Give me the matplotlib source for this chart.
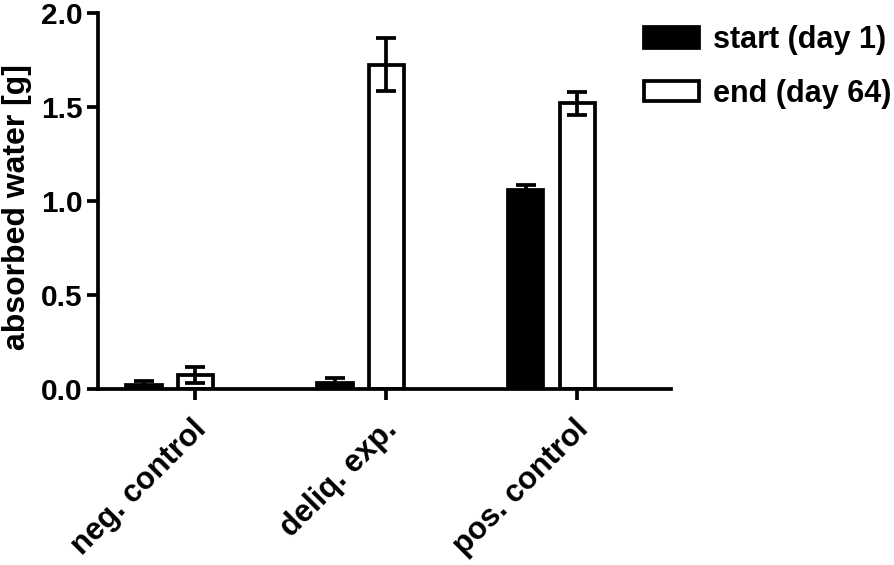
import matplotlib
matplotlib.use("Agg")
import matplotlib.pyplot as plt
import matplotlib.transforms as mtransforms
import numpy as np
from matplotlib.patches import Patch

categories = ["neg. control", "deliq. exp.", "pos. control"]
start_vals = [0.02, 0.03, 1.06]
start_err = [0.025, 0.03, 0.025]
end_vals = [0.075, 1.725, 1.52]
end_err = [0.042, 0.14, 0.06]
series_labels = ["start (day 1)", "end (day 64)"]
yticks = [0.0, 0.5, 1.0, 1.5, 2.0]

plt.rcParams['font.family'] = ['Liberation Sans', 'DejaVu Sans']
plt.rcParams['font.weight'] = 'bold'

fig = plt.figure(figsize=(8.95, 5.65), dpi=100)
ax = fig.add_axes([0.1095, 0.3115, 0.6402, 0.6655])

x = np.arange(len(categories))
w = 0.185
lw = 2.7
off = -0.27

ax.bar(x + off, start_vals, width=w, color='black', edgecolor='black', linewidth=lw, zorder=2)
ax.bar(x, end_vals, width=w, color='white', edgecolor='black', linewidth=lw, zorder=2)
ax.errorbar(x + off, start_vals, yerr=start_err, fmt='none', ecolor='black', elinewidth=lw,
            capsize=7.2, capthick=lw, zorder=3)
ax.errorbar(x, end_vals, yerr=end_err, fmt='none', ecolor='black', elinewidth=lw,
            capsize=7.2, capthick=lw, zorder=3)

ax.set_xlim(-0.51, 2.49)
ax.set_ylim(0, 2.0)
ax.set_yticks(yticks)
ax.set_yticklabels([f"{v:.1f}" for v in yticks], fontsize=21.5, fontweight='bold')
ax.set_xticks(x)
ax.set_xticklabels(categories, rotation=45, ha='right', rotation_mode='anchor',
                   fontsize=22.3, fontweight='bold')
ax.tick_params(axis='both', width=lw, length=8, direction='out')
ax.tick_params(axis='x', pad=6)
ax.tick_params(axis='y', pad=3)
offset = mtransforms.ScaledTranslation(-4 / 100, -6 / 100, fig.dpi_scale_trans)
for lab in ax.get_xticklabels():
    lab.set_transform(lab.get_transform() + offset)
for s in ['top', 'right']:
    ax.spines[s].set_visible(False)
for s in ['left', 'bottom']:
    ax.spines[s].set_linewidth(lw)

ax.set_ylabel("absorbed water [g]", fontsize=23, fontweight='bold')
ax.yaxis.set_label_coords(-0.116, 0.484)

handles = [Patch(facecolor='black', edgecolor='black', linewidth=lw, joinstyle='round'),
           Patch(facecolor='white', edgecolor='black', linewidth=lw, joinstyle='round')]
fig.legend(handles, series_labels, loc='upper left', bbox_to_anchor=(0.72, 0.955),
           frameon=False, handlelength=1.8, handleheight=0.66,
           handletextpad=0.45, labelspacing=0.76, borderpad=0, borderaxespad=0,
           prop={'weight': 'bold', 'size': 22})

fig.savefig("out.png", dpi=100)
